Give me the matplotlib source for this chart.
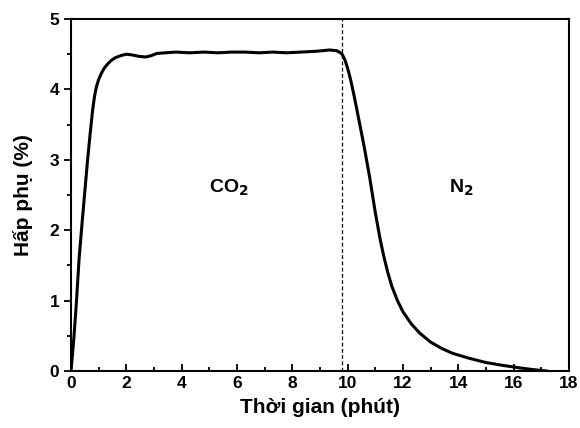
import numpy as np
import matplotlib
matplotlib.use('Agg')
import matplotlib.pyplot as plt
from matplotlib.ticker import MultipleLocator

plt.rcParams['font.family'] = ['Liberation Sans', 'DejaVu Sans']
plt.rcParams['font.weight'] = 'bold'

# Adsorption curve (time in minutes, adsorption in %)
time_min = [0.0, 0.05, 0.11, 0.2, 0.29, 0.4, 0.5, 0.6, 0.7, 0.78, 0.85, 0.92,
            1.0, 1.1, 1.2, 1.3, 1.45, 1.6, 1.8, 2.0, 2.2, 2.45, 2.7, 2.9,
            3.1, 3.4, 3.8, 4.3, 4.8, 5.3, 5.8, 6.3, 6.8, 7.3, 7.8, 8.3,
            8.8, 9.1, 9.35, 9.6, 9.7, 9.8, 9.9, 10.0, 10.1, 10.2, 10.3,
            10.45, 10.6, 10.8, 11.0, 11.17, 11.3, 11.45, 11.6, 11.8, 12.0,
            12.3, 12.6, 13.0, 13.4, 13.8, 14.4, 15.0, 15.6, 16.2, 16.7, 17.2]
adsorption = [0.0, 0.22, 0.5, 1.0, 1.58, 2.1, 2.55, 3.0, 3.4, 3.7, 3.9, 4.04,
              4.14, 4.23, 4.3, 4.35, 4.41, 4.45, 4.48, 4.50, 4.49, 4.47, 4.46, 4.48,
              4.51, 4.52, 4.53, 4.52, 4.53, 4.52, 4.53, 4.53, 4.52, 4.53, 4.52, 4.53,
              4.54, 4.55, 4.56, 4.55, 4.53, 4.5, 4.42, 4.3, 4.15, 3.97, 3.78,
              3.48, 3.18, 2.74, 2.25, 1.88, 1.64, 1.4, 1.2, 1.0, 0.84,
              0.67, 0.54, 0.41, 0.32, 0.25, 0.18, 0.12, 0.08, 0.045, 0.02, 0.0]
switch_time = 9.8

fig = plt.figure(figsize=(5.8, 4.28), dpi=100)
ax = fig.add_axes([0.1224, 0.1332, 0.8586, 0.8224])

ax.plot(time_min, adsorption, color='black', linewidth=2.2,
        solid_capstyle='round', solid_joinstyle='round')
ax.axvline(switch_time, color='black', linestyle=(0, (3, 2)), linewidth=0.9)

ax.text(5.7, 2.6, 'CO$_\\mathbf{2}$', fontsize=14, fontweight='bold', ha='center', va='center')
ax.text(14.1, 2.6, 'N$_\\mathbf{2}$', fontsize=14, fontweight='bold', ha='center', va='center')

ax.set_xlim(0, 18)
ax.set_ylim(0, 5)
ax.xaxis.set_major_locator(MultipleLocator(2))
ax.xaxis.set_minor_locator(MultipleLocator(1))
ax.yaxis.set_major_locator(MultipleLocator(1))
ax.yaxis.set_minor_locator(MultipleLocator(0.5))
ax.tick_params(axis='x', which='both', direction='in', labelsize=12.5, width=1.3)
ax.tick_params(axis='y', which='both', direction='out', labelsize=12.5, width=1.3)
ax.tick_params(which='major', length=5)
ax.tick_params(which='minor', length=3)
for lbl in ax.get_xticklabels() + ax.get_yticklabels():
    lbl.set_fontweight('bold')
for sp in ax.spines.values():
    sp.set_linewidth(1.5)

ax.set_xlabel('Thời gian (phút)', fontsize=15, fontweight='bold', labelpad=5)
ax.set_ylabel('Hấp phụ (%)', fontsize=15, fontweight='bold', labelpad=12)

fig.savefig('out.png', dpi=100)
